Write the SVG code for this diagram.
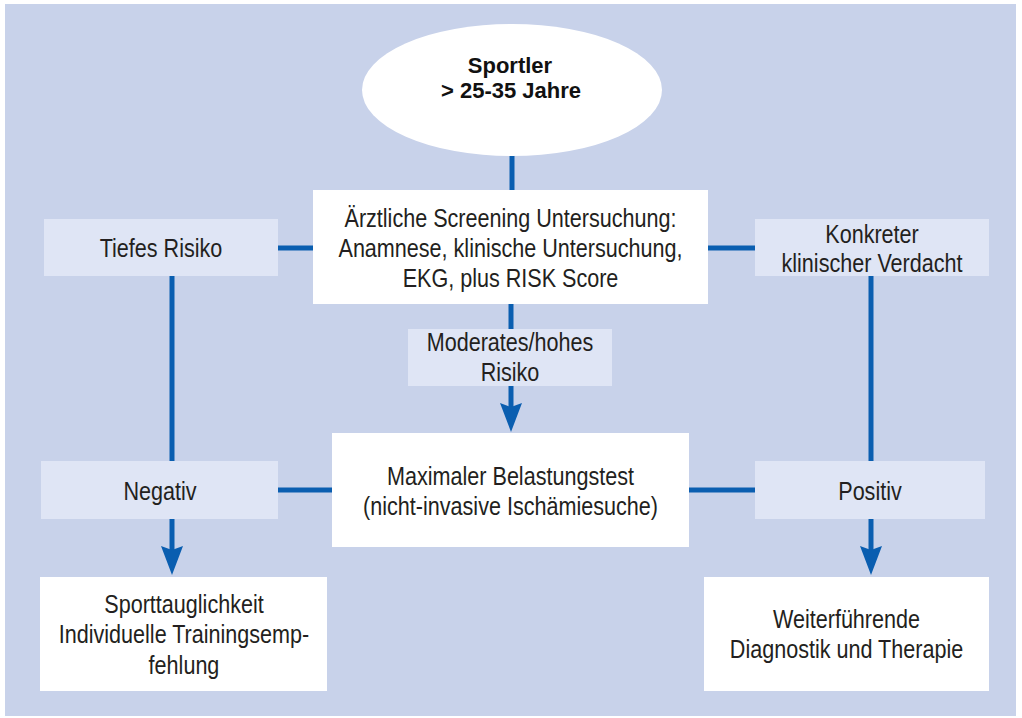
<svg xmlns="http://www.w3.org/2000/svg" width="1022" height="718" viewBox="0 0 1022 718">
<style>
.bg{fill:#c8d2ea}
.w{fill:#ffffff}
.l{fill:#dfe5f5}
.t{font-family:"Liberation Sans",Arial,sans-serif;font-size:26px;fill:#231f20;text-anchor:middle}
.e{font-family:"Liberation Sans",Arial,sans-serif;font-size:22px;font-weight:bold;fill:#111;text-anchor:middle}
.c{fill:none;stroke:#0a5eb0;stroke-width:5}
</style>
<defs>
<marker id="ah" markerUnits="userSpaceOnUse" viewBox="0 0 29 22" markerWidth="29" markerHeight="22" refX="14" refY="11" orient="auto">
<path d="M0,0 L29,11 L0,22 L4,11 z" fill="#0a5eb0"/>
</marker>
</defs>
<rect class="bg" x="5" y="4" width="1011" height="712"/>
<g id="connectors">
<path class="c" d="M512,155 V191"/>
<path class="c" d="M511,303 V330"/>
<path class="c" d="M511,385 V417" marker-end="url(#ah)"/>
<path class="c" d="M277,248 H314"/>
<path class="c" d="M707,248 H756"/>
<path class="c" d="M172,275 V462"/>
<path class="c" d="M871,275 V462"/>
<path class="c" d="M277,490 H333"/>
<path class="c" d="M688,490 H756"/>
<path class="c" d="M172,518 V560" marker-end="url(#ah)"/>
<path class="c" d="M871,518 V560" marker-end="url(#ah)"/>
</g>
<g id="sportler">
<ellipse class="w" cx="512" cy="90" rx="150" ry="66"/>
<text class="e" x="510" y="73">Sportler</text>
<text class="e" x="511" y="98">&gt; 25-35 Jahre</text>
</g>
<g id="screening">
<rect class="w" x="313" y="190" width="395" height="114"/>
<text class="t" transform="translate(510.5 0) scale(0.83 1)" y="227">Ärztliche Screening Untersuchung:</text>
<text class="t" transform="translate(510.5 0) scale(0.83 1)" y="257">Anamnese, klinische Untersuchung,</text>
<text class="t" transform="translate(510.5 0) scale(0.83 1)" y="287">EKG, plus RISK Score</text>
</g>
<g id="tiefes">
<rect class="l" x="44" y="219" width="234" height="57"/>
<text class="t" transform="translate(161 0) scale(0.83 1)" y="257">Tiefes Risiko</text>
</g>
<g id="konkreter">
<rect class="l" x="755" y="219" width="234" height="57"/>
<text class="t" transform="translate(872 0) scale(0.83 1)" y="243">Konkreter</text>
<text class="t" transform="translate(872 0) scale(0.83 1)" y="272">klinischer Verdacht</text>
</g>
<g id="moderates">
<rect class="l" x="408" y="329" width="204" height="57"/>
<text class="t" transform="translate(510 0) scale(0.83 1)" y="351">Moderates/hohes</text>
<text class="t" transform="translate(510 0) scale(0.83 1)" y="381">Risiko</text>
</g>
<g id="maximal">
<rect class="w" x="332" y="433" width="357" height="114"/>
<text class="t" transform="translate(510.5 0) scale(0.83 1)" y="485">Maximaler Belastungstest</text>
<text class="t" transform="translate(510.5 0) scale(0.83 1)" y="515">(nicht-invasive Ischämiesuche)</text>
</g>
<g id="negativ">
<rect class="l" x="41" y="461" width="237" height="58"/>
<text class="t" transform="translate(160 0) scale(0.83 1)" y="500">Negativ</text>
</g>
<g id="positiv">
<rect class="l" x="755" y="461" width="230" height="58"/>
<text class="t" transform="translate(870 0) scale(0.83 1)" y="500">Positiv</text>
</g>
<g id="sporttauglichkeit">
<rect class="w" x="40" y="577" width="287" height="114"/>
<text class="t" transform="translate(184 0) scale(0.83 1)" y="613">Sporttauglichkeit</text>
<text class="t" transform="translate(184 0) scale(0.83 1)" y="643">Individuelle Trainingsemp-</text>
<text class="t" transform="translate(184 0) scale(0.83 1)" y="674">fehlung</text>
</g>
<g id="weiterfuehrende">
<rect class="w" x="704" y="577" width="285" height="114"/>
<text class="t" transform="translate(846.5 0) scale(0.83 1)" y="628">Weiterführende</text>
<text class="t" transform="translate(846.5 0) scale(0.83 1)" y="658">Diagnostik und Therapie</text>
</g>
</svg>
